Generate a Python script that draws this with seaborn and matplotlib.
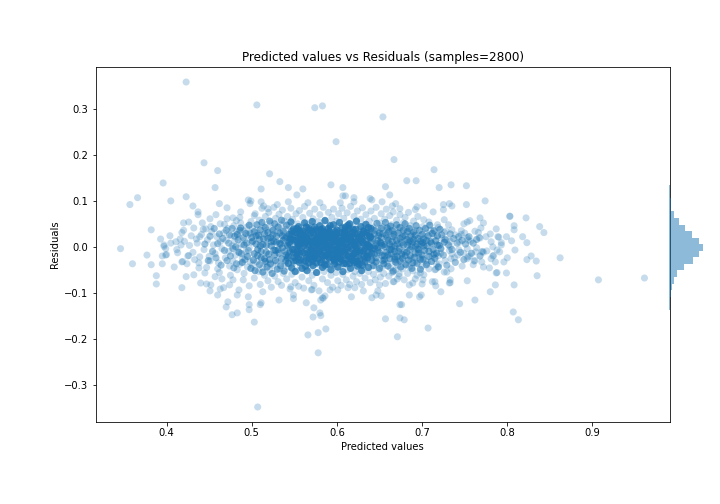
import numpy as np
import pandas as pd
import matplotlib
matplotlib.use('Agg')
import matplotlib.pyplot as plt
import seaborn as sns

# ==========================================
# DATA (by region)
# ==========================================
upper_tail = [(.423,.359),(.506,.309),(.574,.303),(.583,.307),(.654,.283),(.599,.229),(.444,.183),(.460,.166),(.521,.159),
    (.667,.190),(.396,.139),(.533,.142),(.457,.129),(.511,.126),(.543,.129),(.560,.126),(.593,.135),(.607,.129),(.657,.131),
    (.553,.113),(.662,.113),(.607,.111),(.610,.111),(.366,.107),(.357,.092),(.405,.100),(.423,.109),(.431,.089),(.462,.094),
    (.471,.085),(.496,.102),(.498,.094),(.499,.100),(.511,.098),(.514,.089),(.519,.083),(.530,.092),(.543,.098),(.566,.096),
    (.580,.096),(.604,.096),(.620,.107),(.620,.098),(.639,.105),(.641,.102),(.653,.098),(.437,.076),(.437,.070),(.420,.052),
    (.426,.054),(.451,.061),(.458,.070),(.487,.076),(.503,.068),(.442,.052),(.432,.041),(.382,.037),(.393,.017),(.404,.024),
    (.418,.031),(.420,.036),(.446,.039),(.463,.050),(.471,.061),(.478,.063),(.482,.057),(.416,.017),(.411,.011),(.435,.017),
    (.439,.022),(.397,.004),(.714,.168),(.682,.144),(.693,.144),(.720,.129),(.734,.135),(.752,.133),(.669,.094),(.665,.089),
    (.694,.087),(.692,.081),(.702,.089),(.674,.083),(.713,.076),(.725,.092),(.732,.094),(.735,.089),(.725,.081),(.752,.092),
    (.774,.100),(.768,.063),(.803,.067),(.803,.066),(.822,.063),(.838,.044),(.843,.031),(.808,.046),(.808,.037),(.787,.039),
    (.772,.052),(.769,.041),(.766,.031),(.756,.057),(.753,.054),(.749,.050),(.746,.035),(.746,.027),(.726,.059),(.731,.048),
    (.735,.037),(.702,.059),(.708,.054),(.718,.048),(.726,.031),(.780,.028),(.775,.022),(.789,.022),(.790,.021),(.799,.022),
    (.818,.022),(.805,.013),(.823,.009),(.767,.020),(.768,.019),(.753,.020),(.754,.015),(.729,.015),(.793,.009),(.781,.011)]

lower_tail = [(.346,-.004),(.360,-.037),(.377,-.018),(.382,-.039),(.388,-.063),(.388,-.081),(.395,-.037),(.395,-.020),(.399,-.018),
    (.400,-.017),(.397,.001),(.399,-.004),(.409,-.044),(.413,-.013),(.418,-.033),(.419,-.032),(.424,-.037),(.425,-.020),(.426,-.019),
    (.418,-.089),(.423,-.065),(.432,-.061),(.440,-.079),(.447,-.081),(.452,-.083),(.451,-.096),(.445,-.057),(.438,-.046),(.438,-.035),
    (.451,-.031),(.460,-.048),(.457,-.065),(.465,-.070),(.460,-.105),(.463,-.092),(.467,-.089),(.474,-.083),(.478,-.072),(.485,-.094),
    (.483,-.105),(.472,-.120),(.470,-.131),(.477,-.148),(.483,-.144),(.497,-.126),(.497,-.137),(.496,-.109),(.503,-.164),(.510,-.126),
    (.511,-.122),(.513,-.098),(.497,-.085),(.507,-.349),(.532,-.116),(.549,-.105),(.549,-.113),(.546,-.087),(.564,-.122),(.573,-.133),
    (.572,-.153),(.580,-.144),(.581,-.150),(.587,-.179),(.578,-.187),(.566,-.192),(.578,-.231),(.583,-.111),(.584,-.112),(.586,-.107),
    (.581,-.116),(.617,-.109),(.641,-.111),(.646,-.105),(.652,-.107),(.657,-.157),(.631,-.096),(.648,-.096),(.592,-.094),(.570,-.094),
    (.571,-.093),(.601,-.094),(.613,-.089),(.621,-.089),(.650,-.083),(.666,-.076),(.671,-.196),(.674,-.155),(.679,-.159),(.707,-.177),
    (.674,-.126),(.676,-.126),(.685,-.105),(.697,-.109),(.699,-.105),(.722,-.098),(.744,-.124),(.762,-.116),(.780,-.098),(.786,-.083),
    (.808,-.083),(.807,-.142),(.813,-.159),(.835,-.063),(.862,-.024),(.907,-.072),(.961,-.068),(.823,-.028),(.828,-.020),(.834,-.031),
    (.799,-.057),(.787,-.057),(.788,-.056),(.753,-.074),(.733,-.072),(.732,-.079),(.733,-.078),(.716,-.085),(.712,-.076),(.715,-.076),
    (.685,-.083),(.689,-.079),(.692,-.070),(.700,-.081),(.701,-.072),(.698,-.057),(.702,-.061),(.667,-.076),(.671,-.070),(.673,-.059),
    (.747,-.042),(.760,-.039),(.772,-.044),(.779,-.046),(.800,-.024),(.796,-.033),(.786,-.033),(.781,-.026),(.783,-.020),(.784,-.019),
    (.809,-.007),(.791,-.011),(.788,-.007),(.770,-.011),(.771,-.010),(.772,-.012),(.776,-.009),(.761,-.031),(.762,-.030),(.770,-.033),
    (.753,-.026),(.754,-.022),(.742,-.018),(.734,-.026),(.735,-.015),(.726,-.055),(.729,-.055),(.734,-.048),(.715,-.050),(.716,-.049),
    (.706,-.035),(.720,-.037),(.719,-.020),(.733,.000),(.753,-.004),(.783,.000),(.793,.004),(.763,-.011)]

left_wing = [(.405,.008),(.412,-.006),(.421,.012),(.427,.003),(.431,-.012),(.436,.008),(.441,.027),(.444,-.006),(.448,.015),(.450,-.021),
    (.453,.033),(.455,.004),(.457,-.015),(.459,.022),(.461,-.035),(.463,.011),(.465,-.004),(.467,.030),(.469,-.024),(.470,.014),
    (.472,.040),(.473,-.010),(.474,-.042),(.476,.024),(.477,.002),(.478,-.031),(.479,.046),(.480,.012),(.481,-.018),(.482,.033),
    (.483,-.050),(.484,-.003),(.485,.021),(.486,-.038),(.487,.052),(.488,.006),(.489,-.025),(.490,.035),(.491,-.058),(.492,.015),
    (.493,-.011),(.494,.043),(.495,-.044),(.496,.027),(.497,-.002),(.498,-.033),(.499,.055),(.500,.010),(.462,-.056),(.468,.049),
    (.475,-.062),(.486,.064),(.490,-.072),(.447,-.045),(.452,.044),(.439,-.022),(.443,.038),(.429,.024),(.433,-.028),(.417,.004)]

upper_band = [(.501,.040),(.504,.072),(.507,.030),(.509,.058),(.512,.084),(.514,.045),(.516,.066),(.518,.036),(.520,.075),(.522,.052),
    (.524,.040),(.526,.086),(.528,.062),(.530,.035),(.532,.071),(.534,.048),(.536,.080),(.538,.056),(.540,.038),(.542,.066),
    (.544,.046),(.546,.084),(.548,.060),(.550,.037),(.552,.072),(.554,.050),(.556,.079),(.558,.042),(.560,.064),(.562,.088),
    (.564,.052),(.566,.038),(.568,.073),(.570,.046),(.572,.061),(.574,.082),(.576,.036),(.578,.055),(.580,.070),(.582,.044),
    (.584,.086),(.586,.058),(.588,.038),(.590,.075),(.592,.049),(.594,.064),(.596,.082),(.598,.040),(.600,.056),(.602,.072),
    (.604,.045),(.606,.084),(.608,.062),(.610,.036),(.612,.074),(.614,.050),(.616,.088),(.618,.041),(.620,.066),(.622,.054),
    (.624,.078),(.626,.038),(.628,.060),(.630,.085),(.632,.047),(.634,.070),(.636,.035),(.638,.056),(.640,.078),(.642,.043),
    (.644,.062),(.646,.086),(.648,.036),(.650,.052),(.652,.072),(.654,.044),(.656,.060),(.658,.082),(.660,.038),(.662,.068),
    (.664,.048),(.666,.076),(.668,.034),(.670,.058),(.672,.042),(.674,.070),(.676,.030),(.678,.052),(.680,.064),(.682,.038),
    (.684,.075),(.686,.046),(.688,.028),(.690,.056),(.692,.036),(.695,.066),(.698,.024),(.701,.044),(.705,.030),(.710,.036),
    (.714,.022),(.719,.042),(.723,.018),(.728,.034),(.733,.012),(.739,.026),(.744,.010),(.750,.030),(.757,.012),(.762,.034)]

lower_band = [(.501,-.040),(.503,-.068),(.506,-.032),(.508,-.054),(.510,-.082),(.513,-.046),(.515,-.062),(.517,-.036),(.519,-.074),(.521,-.050),
    (.523,-.088),(.525,-.040),(.527,-.064),(.529,-.034),(.531,-.076),(.533,-.048),(.535,-.084),(.537,-.058),(.539,-.038),(.541,-.070),
    (.543,-.044),(.545,-.092),(.547,-.060),(.549,-.036),(.551,-.078),(.553,-.052),(.555,-.086),(.557,-.042),(.559,-.066),(.561,-.090),
    (.563,-.050),(.565,-.036),(.567,-.074),(.569,-.046),(.571,-.062),(.573,-.084),(.575,-.038),(.577,-.056),(.579,-.096),(.581,-.042),
    (.583,-.070),(.585,-.054),(.587,-.036),(.589,-.078),(.591,-.048),(.593,-.062),(.595,-.088),(.597,-.040),(.599,-.056),(.601,-.074),
    (.603,-.044),(.605,-.084),(.607,-.060),(.609,-.036),(.611,-.072),(.613,-.050),(.615,-.082),(.617,-.040),(.619,-.064),(.621,-.054),
    (.623,-.076),(.625,-.038),(.627,-.058),(.629,-.082),(.631,-.046),(.633,-.068),(.635,-.034),(.637,-.054),(.639,-.078),(.641,-.042),
    (.643,-.060),(.645,-.072),(.647,-.036),(.649,-.050),(.651,-.066),(.653,-.044),(.655,-.058),(.657,-.080),(.659,-.036),(.661,-.064),
    (.663,-.046),(.665,-.056),(.667,-.032),(.669,-.050),(.671,-.040),(.673,-.064),(.675,-.028),(.677,-.048),(.679,-.072),(.681,-.036),
    (.683,-.058),(.685,-.044),(.687,-.026),(.689,-.052),(.691,-.034),(.694,-.062),(.697,-.024),(.700,-.042),(.704,-.030),(.708,-.048),
    (.712,-.020),(.717,-.038),(.722,-.014),(.727,-.030),(.732,-.008),(.738,-.024),(.743,-.006),(.749,-.014),(.756,-.020),(.764,-.002)]

core = [(.501,.012),(.503,-.015),(.505,.024),(.507,-.006),(.509,.016),(.511,-.024),(.513,.005),(.515,.028),(.517,-.012),(.519,.018),
    (.521,-.028),(.523,.002),(.525,.026),(.527,-.018),(.529,.010),(.531,-.006),(.533,.030),(.535,-.026),(.537,.014),(.539,-.010),
    (.541,.022),(.543,-.020),(.545,.004),(.547,.028),(.549,-.014),(.551,.012),(.552,-.030),(.553,-.002),(.554,.020),(.555,-.022),
    (.556,.008),(.557,.032),(.558,-.010),(.559,.016),(.560,-.028),(.561,.002),(.562,.024),(.563,-.016),(.564,.010),(.565,-.006),
    (.566,.030),(.567,-.024),(.568,.014),(.569,-.012),(.570,.020),(.571,-.032),(.572,.000),(.573,.026),(.574,-.018),(.575,.008),
    (.576,-.004),(.577,.034),(.578,-.026),(.579,.016),(.580,-.010),(.581,.022),(.582,-.020),(.583,.004),(.584,.030),(.585,-.014),
    (.586,.012),(.587,-.030),(.588,-.002),(.589,.024),(.590,-.022),(.591,.008),(.592,.032),(.593,-.008),(.594,.018),(.595,-.026),
    (.596,.002),(.597,.026),(.598,-.016),(.599,.010),(.600,-.004),(.601,.030),(.602,-.024),(.603,.014),(.604,-.012),(.605,.020),
    (.606,-.030),(.607,.000),(.608,.028),(.609,-.018),(.610,.006),(.611,-.006),(.612,.034),(.613,-.022),(.614,.016),(.615,-.010),
    (.616,.022),(.617,-.028),(.618,.004),(.619,.026),(.620,-.014),(.621,.012),(.622,-.032),(.623,-.002),(.624,.030),(.625,-.020),
    (.626,.008),(.628,-.008),(.630,.018),(.632,-.026),(.634,.002),(.636,.024),(.638,-.016),(.640,.010),(.642,-.004),(.644,.028),
    (.646,-.024),(.648,.014),(.650,-.012),(.652,.020),(.654,-.030),(.656,.000),(.658,.026),(.660,-.018),(.662,.006),(.664,-.006),
    (.666,.022),(.668,-.022),(.670,.014),(.672,-.010),(.674,.018),(.676,-.016),(.678,.004),(.680,.024),(.682,-.012),(.684,.010),
    (.686,-.020),(.688,.000),(.690,.016),(.692,-.014),(.694,.006),(.696,-.006),(.698,.012),(.700,-.018),(.702,.002),(.705,.014),
    (.708,-.010),(.711,.008),(.714,-.016),(.718,.004),(.722,-.004),(.726,.010),
    (.552,.014),(.556,-.016),(.560,.022),(.564,-.024),(.568,.004),(.572,-.012),(.576,.018),(.580,.002),(.584,-.020),(.588,.012),
    (.592,-.014),(.596,.016),(.600,.006),(.604,-.018),(.608,.012),(.612,-.008),(.616,.002),(.620,.020),(.624,-.010),(.628,.014),
    (.632,.006),(.636,-.012),(.640,.022),(.644,-.016),(.648,-.002),(.652,.008),(.656,-.020),(.660,.014),(.664,.000),(.668,-.010),
    (.510,.002),(.516,-.032),(.522,.020),(.528,-.008),(.534,.006),(.540,-.018),(.546,.016),(.550,-.006),(.536,.024),(.526,.012)]

# the saturated middle of the cloud
dense_left = [(.483,.027),(.485,-.012),(.487,.041),(.489,-.034),(.491,.004),(.493,.029),(.495,-.021),(.497,.047),(.499,-.047),(.500,.020),
    (.502,-.029),(.503,.033),(.504,-.052),(.505,.006),(.506,.048),(.507,-.019),(.508,.025),(.509,-.039),(.510,.037),(.511,-.010),
    (.512,.053),(.513,-.055),(.514,.017),(.515,-.026),(.516,.042),(.517,.003),(.518,-.044),(.519,.031),(.520,-.016),(.521,.056),
    (.522,-.037),(.523,.011),(.524,-.058),(.525,.036),(.526,-.007),(.527,.050),(.528,-.030),(.529,.023),(.530,-.049),(.531,.043),
    (.532,-.014),(.533,.008),(.534,-.041),(.535,.058),(.536,-.002),(.537,.034),(.538,-.053),(.539,.019),(.540,-.031),(.541,.047)]

dense_mid_a = [(.542,.003),(.543,-.036),(.544,.027),(.545,-.011),(.546,.054),(.547,-.046),(.548,.015),(.549,.039),(.550,-.023),(.551,-.054),
    (.552,.031),(.553,-.017),(.554,.006),(.555,.044),(.556,-.034),(.557,.018),(.558,-.003),(.559,-.047),(.560,.034),(.561,-.013),
    (.562,.052),(.563,-.031),(.564,.021),(.565,-.052),(.566,.001),(.567,.041),(.568,-.021),(.569,.028),(.570,-.007),(.571,.055),
    (.572,-.041),(.573,.013),(.574,-.025),(.575,.037),(.576,-.056),(.577,.006),(.578,.024),(.579,-.015),(.580,.046),(.581,-.034),
    (.582,.011),(.583,-.045),(.584,.033),(.585,-.001),(.586,.057),(.587,-.019),(.588,.021),(.589,-.038),(.590,.040),(.591,-.011),
    (.592,.003),(.593,-.050),(.594,.027),(.595,-.017),(.596,.048),(.597,-.031),(.598,.015),(.599,-.006),(.600,.036),(.601,-.044),
    (.602,.009),(.603,.053),(.604,-.026),(.605,-.002),(.606,.031),(.607,-.054),(.608,.017),(.609,-.013),(.610,.043),(.611,-.037),
    (.612,.007),(.613,.025),(.614,-.021),(.615,.050),(.616,-.047),(.617,.012),(.618,-.005),(.619,.038),(.620,-.034),(.621,.029),
    (.622,-.015),(.623,.056),(.624,-.042),(.625,.002),(.626,.021),(.627,-.027),(.628,.044),(.629,-.052),(.630,.010),(.631,-.009),
    (.632,.033),(.633,-.033),(.634,.049),(.635,-.020),(.636,.005),(.637,-.045),(.638,.026),(.639,-.002),(.640,.040),(.641,-.029)]

dense_mid_b = [(.542,-.024),(.545,.017),(.548,-.006),(.551,.026),(.553,.040),(.555,.003),(.557,-.029),(.559,.010),(.561,.029),(.563,-.042),
    (.565,.016),(.566,-.014),(.568,.036),(.570,-.027),(.571,.009),(.573,-.004),(.574,.043),(.576,-.035),(.577,.021),(.579,-.008),
    (.580,.013),(.582,-.028),(.583,.039),(.585,.018),(.586,-.040),(.588,.001),(.589,.028),(.591,-.024),(.592,.046),(.594,-.003),
    (.595,.011),(.597,-.037),(.598,.033),(.600,-.013),(.601,.022),(.603,-.033),(.604,.005),(.606,.041),(.607,-.010),(.609,.025),
    (.610,-.027),(.612,-.001),(.613,.047),(.615,-.036),(.616,.015),(.618,.030),(.619,-.019),(.621,.004),(.622,.038),(.624,-.031),
    (.625,.017),(.627,-.012),(.628,.027),(.630,-.040),(.631,.035),(.633,-.004),(.634,.013),(.636,-.024),(.637,.042),(.639,.020),
    (.544,.009),(.547,.034),(.549,-.031),(.554,-.011),(.558,.025),(.562,.008),(.567,-.035),(.569,.011),(.572,.032),(.575,-.019),
    (.578,.007),(.581,.037),(.584,-.006),(.587,.016),(.590,-.016),(.593,.023),(.596,-.027),(.599,.028),(.602,-.009),(.605,.012),
    (.608,-.037),(.611,.020),(.614,.039),(.617,-.023),(.620,.008),(.623,-.008),(.626,-.038),(.629,.023),(.632,-.020),(.635,.030),
    (.638,.001),(.641,-.014),(.556,.035),(.564,.043),(.573,-.022),(.582,.027),(.591,.034),(.600,-.021),(.609,.033),(.618,-.029)]

dense_right = [(.642,.017),(.643,-.041),(.644,.036),(.645,.002),(.646,-.033),(.647,.051),(.648,-.008),(.649,.024),(.650,-.047),(.651,.010),
    (.652,.040),(.653,-.019),(.654,.029),(.655,-.037),(.656,.005),(.657,.053),(.658,-.012),(.659,.019),(.660,-.042),(.661,.033),
    (.662,-.026),(.663,.045),(.664,-.015),(.665,.012),(.666,-.053),(.667,.027),(.668,.002),(.669,-.034),(.670,.048),(.671,-.021),
    (.672,.030),(.673,-.003),(.674,.042),(.675,-.044),(.676,.009),(.677,-.025),(.678,.036),(.679,-.011),(.680,.050),(.681,-.039),
    (.682,.016),(.683,.003),(.684,-.029),(.685,.040),(.686,-.006),(.687,.024),(.688,-.047),(.689,.010),(.690,.032),(.691,-.023),
    (.692,.001),(.693,.046),(.694,-.036),(.695,.018),(.696,-.014),(.697,.036),(.698,-.049),(.699,.006),(.700,.027),(.701,-.027),
    (.702,.017),(.703,-.008),(.704,.040),(.705,-.039),(.706,.002),(.707,.024),(.708,-.021),(.709,.047),(.710,.011),(.711,-.032),
    (.712,.029),(.713,-.006),(.714,.035),(.715,-.025),(.716,.013),(.717,-.014),(.718,.024),(.719,-.044),(.720,.003),(.721,.038),
    (.644,-.004),(.647,.007),(.650,.030),(.653,.003),(.656,-.028),(.659,.041),(.662,-.006),(.665,.035),(.668,-.027),(.671,.006),
    (.674,-.031),(.677,.022),(.680,-.019),(.683,.033),(.686,.013),(.689,-.035),(.692,.025),(.695,-.005),(.698,-.028),(.701,.009)]

dense_wings = [(.445,.006),(.449,-.030),(.451,.023),(.454,-.010),(.456,.040),(.458,-.024),(.460,.007),(.462,.028),(.464,-.040),(.466,.018),
    (.468,-.008),(.470,.036),(.471,-.030),(.473,.008),(.474,.026),(.475,-.020),(.477,.040),(.478,-.004),(.479,-.046),(.480,.023),
    (.481,.000),(.482,-.037),(.484,.015),(.486,.036),(.488,-.015),(.490,.020),(.492,-.028),(.494,.008),(.496,-.008),(.498,.030),
    (.723,.026),(.725,-.018),(.727,.016),(.729,-.040),(.731,.004),(.733,.028),(.735,-.006),(.737,.018),(.739,-.034),(.741,.008),
    (.743,.022),(.745,-.012),(.747,.014),(.749,-.028),(.751,.006),(.755,.022),(.758,-.014),(.760,.008),(.764,.016),(.768,-.020)]

# histogram on the right margin
hist_centers = [.1272,.1129,.0986,.0843,.0700,.0557,.0414,.0271,.0128,-.0015,-.0158,-.0301,-.0444,-.0587,-.0730,-.0873,-.1016,-.1159,-.1302]
hist_counts = [14,14,28,33,72,144,232,333,434,494,434,348,217,115,72,43,24,20,14]

x_ticks = [0.4,0.5,0.6,0.7,0.8,0.9]
y_ticks = [-0.3,-0.2,-0.1,0.0,0.1,0.2,0.3]

# overlapping samples in the core cannot be told apart, so each read point stands for several
all_points = (upper_tail + lower_tail + left_wing + upper_band + lower_band + core * 3
              + dense_left * 3 + dense_mid_a * 5 + dense_mid_b * 5 + dense_right * 3 + dense_wings * 2)
df = pd.DataFrame(all_points, columns=['predicted', 'residual'])

# ==========================================
# PLOT
# ==========================================
fig = plt.figure(figsize=(10, 7), dpi=72)
ax = fig.add_axes([95.5/720, 82.5/504, 574.5/720, 355/504])
ax_hist = fig.add_axes([669/720, 82.5/504, 37/720, 355/504])

sns.scatterplot(data=df, x='predicted', y='residual', ax=ax, color='#1f77b4',
                edgecolor='none', linewidth=0, alpha=0.25, s=50)
ax.set_xlim(0.3166, 0.991)
ax.set_ylim(-0.3806, 0.3928)
ax.set_xticks(x_ticks)
ax.set_yticks(y_ticks)
ax.set_xlabel('Predicted values')
ax.set_ylabel('Residuals')
ax.set_title('Predicted values vs Residuals (samples=2800)', fontsize=12)

sns.histplot(y=hist_centers, weights=hist_counts, binwidth=.0143, binrange=(-.13735, .13435),
             color='#1f77b4', alpha=0.5, linewidth=0, ax=ax_hist)
ax_hist.set_ylim(ax.get_ylim())
ax_hist.set_xlim(0, 536)
ax_hist.set_axis_off()

fig.savefig('out.png', dpi=72)
